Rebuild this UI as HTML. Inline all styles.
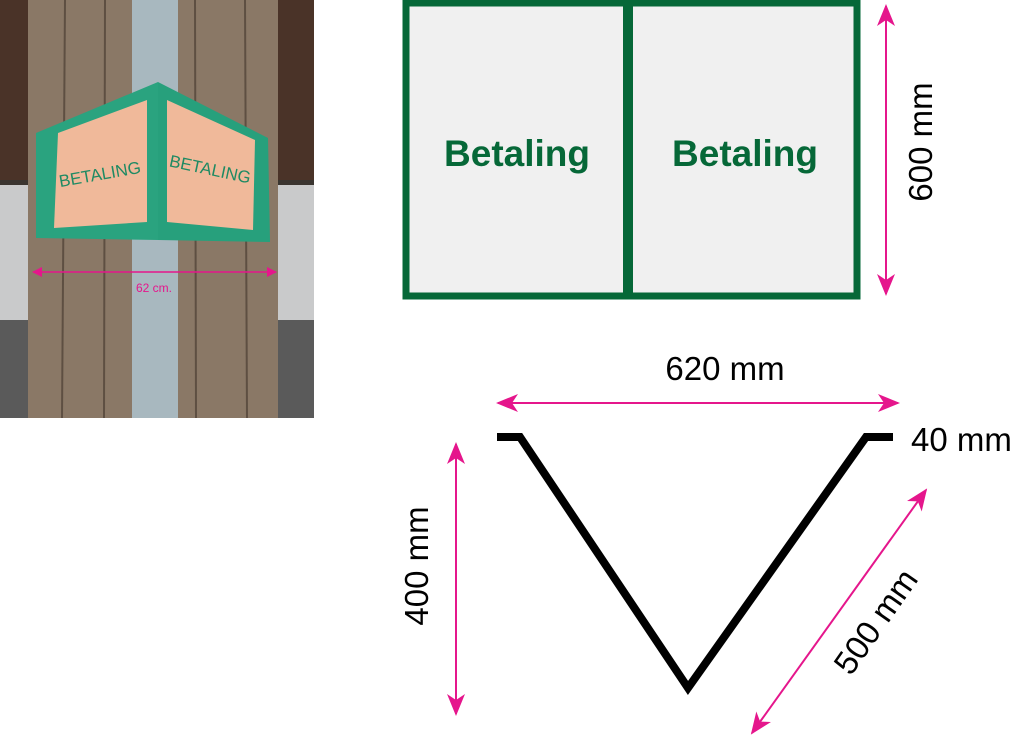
<!DOCTYPE html>
<html><head><style>
html,body{margin:0;padding:0;background:#fff;width:1024px;height:735px;overflow:hidden}
svg{display:block}
text{font-family:"Liberation Sans",sans-serif}
</style></head><body>
<svg width="1024" height="735" viewBox="0 0 1024 735" xmlns="http://www.w3.org/2000/svg">
<defs>
<marker id="ah" markerWidth="10" markerHeight="10" refX="9" refY="5" orient="auto-start-reverse" markerUnits="userSpaceOnUse">
<path d="M0,0 L10,5 L0,10 Z" fill="#e5168c"/></marker>
<marker id="ab" markerWidth="22" markerHeight="18" refX="20" refY="9" orient="auto-start-reverse" markerUnits="userSpaceOnUse">
<path d="M0,0 L22,9 L0,18 L6,9 Z" fill="#e5168c"/></marker>
</defs>
<!-- photo -->
<rect x="0" y="0" width="314" height="418" fill="#3a3530"/>
<rect x="0" y="0" width="314" height="180" fill="#4a3328"/>
<rect x="0" y="185" width="314" height="233" fill="#c9cacb"/>
<rect x="0" y="320" width="314" height="98" fill="#5a5a5a"/>
<rect x="28" y="0" width="250" height="418" fill="#8a7866"/>
<g stroke="#5e4f42" stroke-width="2">
<line x1="65" y1="0" x2="62" y2="418"/><line x1="105" y1="0" x2="104" y2="418"/>
<line x1="195" y1="0" x2="196" y2="418"/><line x1="245" y1="0" x2="247" y2="418"/>
</g>
<rect x="132" y="0" width="46" height="418" fill="#a8b8bf"/>
<polygon points="36,133 158,82 158,240 36,238" fill="#2aa37f"/>
<polygon points="158,82 268,138 270,242 158,240" fill="#27a07c"/>
<polygon points="58,133 147,100 147,222 54,228" fill="#f0b99a" />
<polygon points="167,100 255,140 253,230 167,222" fill="#f0b99a"/>
<text x="100" y="180" font-family="Liberation Serif,serif" font-size="17" fill="#1f8a63" text-anchor="middle" transform="rotate(-10 100 175)">BETALING</text>
<text x="210" y="175" font-family="Liberation Serif,serif" font-size="17" fill="#1f8a63" text-anchor="middle" transform="rotate(12 210 170)">BETALING</text>
<line x1="33" y1="272" x2="276" y2="272" stroke="#e5168c" stroke-width="1.5" marker-start="url(#ah)" marker-end="url(#ah)"/>
<text x="154" y="292" font-size="12" fill="#e5168c" text-anchor="middle">62 cm.</text>
<!-- panels -->
<rect x="406" y="3" width="451" height="293" fill="#f0f0f0" stroke="#066838" stroke-width="7"/>
<rect x="623" y="3" width="10" height="293" fill="#066838"/>
<text x="517" y="166" font-size="37" font-weight="bold" fill="#066838" text-anchor="middle">Betaling</text>
<text x="745" y="166" font-size="37" font-weight="bold" fill="#066838" text-anchor="middle">Betaling</text>
<line x1="886" y1="6" x2="886" y2="294" stroke="#e5168c" stroke-width="2" marker-start="url(#ab)" marker-end="url(#ab)"/>
<text x="0" y="0" font-size="33" text-anchor="middle" transform="translate(932 142) rotate(-90)">600 mm</text>
<!-- V shape -->
<polyline points="497,437 520,437 688,688 866,437 893,437" fill="none" stroke="#000" stroke-width="8"/>
<line x1="498" y1="403" x2="898" y2="403" stroke="#e5168c" stroke-width="2" marker-start="url(#ab)" marker-end="url(#ab)"/>
<text x="725" y="380" font-size="33" text-anchor="middle">620 mm</text>
<text x="911" y="451" font-size="33">40 mm</text>
<line x1="456" y1="444" x2="456" y2="714" stroke="#e5168c" stroke-width="2" marker-start="url(#ab)" marker-end="url(#ab)"/>
<text x="0" y="0" font-size="33" text-anchor="middle" transform="translate(428 566) rotate(-90)">400 mm</text>
<line x1="926" y1="490" x2="752" y2="733" stroke="#e5168c" stroke-width="2" marker-start="url(#ab)" marker-end="url(#ab)"/>
<text x="0" y="0" font-size="33" text-anchor="middle" transform="translate(885 628) rotate(-55)">500 mm</text>
</svg>
</body></html>
